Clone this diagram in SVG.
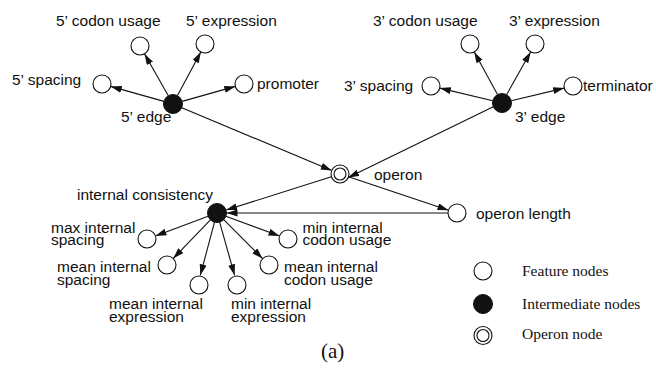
<svg xmlns="http://www.w3.org/2000/svg" width="656" height="378" viewBox="0 0 656 378">
<style>
.lbl{font-family:"Liberation Sans",Arial,sans-serif;font-size:15.5px;fill:#111}
.leg{font-family:"Liberation Serif","Times New Roman",serif;font-size:15.5px;fill:#111}
.f{fill:#fff;stroke:#111;stroke-width:1.1}
.i{fill:#111;stroke:#111;stroke-width:1}
.e{stroke:#111;stroke-width:1.1;fill:none;marker-end:url(#ah)}
</style>
<defs>
<marker id="ah" markerUnits="userSpaceOnUse" markerWidth="12" markerHeight="8" refX="11" refY="3.5" orient="auto">
<path d="M0,0 L11,3.5 L0,7 z" fill="#111"/>
</marker>
</defs>
<rect width="656" height="378" fill="#fff"/>
<g id="connectors">
<line class="e" x1="168.3" y1="95.7" x2="144.5" y2="53.8"/>
<line class="e" x1="177.5" y1="95.6" x2="200.8" y2="51.9"/>
<line class="e" x1="163.9" y1="101.4" x2="110.7" y2="86.4"/>
<line class="e" x1="182.1" y1="101.4" x2="235.3" y2="86.4"/>
<line class="e" x1="181.8" y1="107.7" x2="331.7" y2="170.5"/>
<line class="e" x1="497.5" y1="94.6" x2="474.3" y2="51.9"/>
<line class="e" x1="506.6" y1="94.7" x2="530.6" y2="51.9"/>
<line class="e" x1="492.8" y1="100.8" x2="439.8" y2="88.1"/>
<line class="e" x1="511.2" y1="100.8" x2="564.2" y2="88.1"/>
<line class="e" x1="493.3" y1="106.8" x2="348.2" y2="177.6"/>
<line class="e" x1="331.4" y1="176.7" x2="226.1" y2="210.1"/>
<line class="e" x1="348.5" y1="176.8" x2="448.5" y2="210.2"/>
<line class="e" x1="448" y1="213" x2="226.5" y2="213"/>
<line class="e" x1="208.1" y1="216.3" x2="155.4" y2="235.9"/>
<line class="e" x1="210.4" y1="219.8" x2="173.2" y2="258.5"/>
<line class="e" x1="214.5" y1="222.2" x2="200.3" y2="275.3"/>
<line class="e" x1="219.6" y1="222.1" x2="234.6" y2="275.3"/>
<line class="e" x1="223.7" y1="219.7" x2="262.6" y2="258.6"/>
<line class="e" x1="225.9" y1="216.3" x2="279.5" y2="235.9"/>
</g>
<g id="n5codon"><circle class="f" cx="140" cy="46" r="9"/><text class="lbl" x="56" y="26">5’ codon usage</text></g>
<g id="n5expr"><circle class="f" cx="205" cy="44" r="9"/><text class="lbl" x="186" y="26">5’ expression</text></g>
<g id="n5spacing"><circle class="f" cx="102" cy="84" r="9"/><text class="lbl" x="12" y="85">5’ spacing</text></g>
<g id="npromoter"><circle class="f" cx="244" cy="84" r="9"/><text class="lbl" x="257" y="89">promoter</text></g>
<g id="n5edge"><circle class="i" cx="173" cy="104" r="9.5"/><text class="lbl" x="121" y="122">5’ edge</text></g>
<g id="n3codon"><circle class="f" cx="470" cy="44" r="9"/><text class="lbl" x="373" y="26">3’ codon usage</text></g>
<g id="n3expr"><circle class="f" cx="535" cy="44" r="9"/><text class="lbl" x="509" y="26">3’ expression</text></g>
<g id="n3spacing"><circle class="f" cx="431" cy="86" r="9"/><text class="lbl" x="344" y="91">3’ spacing</text></g>
<g id="nterminator"><circle class="f" cx="573" cy="86" r="9"/><text class="lbl" x="583" y="91">terminator</text></g>
<g id="n3edge"><circle class="i" cx="502" cy="103" r="9.5"/><text class="lbl" x="515" y="122">3’ edge</text></g>
<g id="noperon"><circle class="f" cx="340" cy="174" r="9"/><circle class="f" cx="340" cy="174" r="6"/><text class="lbl" x="374" y="180">operon</text></g>
<g id="nintcons"><circle class="i" cx="217" cy="213" r="9.5"/><text class="lbl" x="77" y="199.5">internal consistency</text></g>
<g id="noplength"><circle class="f" cx="457" cy="213" r="9"/><text class="lbl" x="476" y="219">operon length</text></g>
<g id="nmaxintsp"><circle class="f" cx="147" cy="239" r="9"/><text class="lbl" x="51" y="232.7">max internal<tspan x="51" dy="12.5">spacing</tspan></text></g>
<g id="nmeanintsp"><circle class="f" cx="167" cy="265" r="9"/><text class="lbl" x="57" y="272.3">mean internal<tspan x="57" dy="12.5">spacing</tspan></text></g>
<g id="nmeanintexp"><circle class="f" cx="199" cy="285" r="9"/><text class="lbl" x="109" y="309.3">mean internal<tspan x="109" dy="12.5">expression</tspan></text></g>
<g id="nminintexp"><circle class="f" cx="237" cy="285" r="9"/><text class="lbl" x="231" y="309.3">min internal<tspan x="231" dy="12.5">expression</tspan></text></g>
<g id="nmeanintcod"><circle class="f" cx="269" cy="265" r="9"/><text class="lbl" x="284" y="272.3">mean internal<tspan x="284" dy="12.5">codon usage</tspan></text></g>
<g id="nminintcod"><circle class="f" cx="288" cy="239" r="9"/><text class="lbl" x="302.5" y="232.7">min internal<tspan x="302.5" dy="12.5">codon usage</tspan></text></g>
<g id="legend">
<circle class="f" cx="483" cy="271" r="9"/><text class="leg" x="522" y="276">Feature nodes</text>
<circle class="i" cx="483" cy="304" r="9.5"/><text class="leg" x="522" y="308.5">Intermediate nodes</text>
<circle class="f" cx="483" cy="335.5" r="9"/><circle class="f" cx="483" cy="335.5" r="6"/><text class="leg" x="522" y="338.5">Operon node</text>
</g>
<text class="leg" x="321" y="358" style="font-size:21px">(a)</text>
</svg>
